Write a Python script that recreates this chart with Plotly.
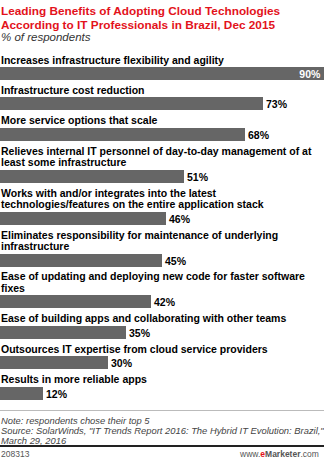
import plotly.graph_objects as go

# ---------------- data ----------------
categories = [
    "Increases infrastructure flexibility and agility",
    "Infrastructure cost reduction",
    "More service options that scale",
    "Relieves internal IT personnel of day-to-day management of at<br>least some infrastructure",
    "Works with and/or integrates into the latest<br>technologies/features on the entire application stack",
    "Eliminates responsibility for maintenance of underlying<br>infrastructure",
    "Ease of updating and deploying new code for faster software<br>fixes",
    "Ease of building apps and collaborating with other teams",
    "Outsources IT expertise from cloud service providers",
    "Results in more reliable apps",
]
values = [90, 73, 68, 51, 46, 45, 42, 35, 30, 12]
value_labels = [f"{v}%" for v in values]

title_lines = [
    "Leading Benefits of Adopting Cloud Technologies",
    "According to IT Professionals in Brazil, Dec 2015",
]
subtitle = "% of respondents"
notes = [
    "Note: respondents chose their top 5",
    "Source: SolarWinds, \"IT Trends Report 2016: The Hybrid IT Evolution: Brazil,\"",
    "March 29, 2016",
]
chart_id = "208313"

# ---------------- layout settings ----------------
W, H = 324, 459
FONT = "Liberation Sans"
LABEL_SIZE = 10.5
FIRST_LABEL_Y = 59.5
LINE_H = 11.5
LABEL_TO_BAR = 14
BAR_TO_LABEL = 16.4
BAR_H = 13
BAR_COLOR = "#666666"
RED = "#e3121b"

# compute vertical positions (pixel units on a reversed y axis)
bar_y = []
label_lines = []
cur = FIRST_LABEL_Y
for cat in categories:
    lines = cat.split("<br>")
    centers = [cur + i * LINE_H for i in range(len(lines))]
    label_lines.append(list(zip(lines, centers)))
    bc = centers[-1] + LABEL_TO_BAR
    bar_y.append(bc)
    cur = bc + BAR_TO_LABEL

xmax = max(values)
positions = ["inside" if v >= 0.85 * xmax else "outside" for v in values]

fig = go.Figure()
fig.add_trace(go.Bar(
    x=values,
    y=bar_y,
    orientation="h",
    width=BAR_H,
    marker=dict(color=BAR_COLOR, line=dict(width=0)),
    text=[f"<b>{t}</b>" for t in value_labels],
    textposition=positions,
    insidetextanchor="end",
    constraintext="none",
    cliponaxis=False,
    insidetextfont=dict(family=FONT, size=LABEL_SIZE, color="white"),
    outsidetextfont=dict(family=FONT, size=LABEL_SIZE, color="black"),
    hoverinfo="skip",
))

annotations = []
for lines in label_lines:
    for txt, yc in lines:
        annotations.append(dict(
            x=0, xref="paper", y=yc, yref="y",
            text=f"<b>{txt}</b>", showarrow=False,
            xanchor="left", yanchor="middle", xshift=-1,
            font=dict(family=FONT, size=LABEL_SIZE, color="black"),
        ))

# title
for i, t in enumerate(title_lines):
    annotations.append(dict(
        x=0, xref="paper", y=10.5 + i * 14, yref="y",
        text=f"<b>{t}</b>", showarrow=False,
        xanchor="left", yanchor="middle", xshift=-1,
        font=dict(family=FONT, size=11.8, color=RED),
    ))
annotations.append(dict(
    x=0, xref="paper", y=36.5, yref="y",
    text=f"<i>{subtitle}</i>", showarrow=False,
    xanchor="left", yanchor="middle", xshift=-1,
    font=dict(family=FONT, size=11.5, color="#333333"),
))

# notes
for i, t in enumerate(notes):
    annotations.append(dict(
        x=0, xref="paper", y=420 + i * 10, yref="y",
        text=f"<i>{t}</i>", showarrow=False,
        xanchor="left", yanchor="middle", xshift=-1,
        font=dict(family=FONT, size=9.4, color="#444444"),
    ))

annotations.append(dict(
    x=0, xref="paper", y=453.5, yref="y",
    text=chart_id, showarrow=False,
    xanchor="left", yanchor="middle", xshift=-1,
    font=dict(family=FONT, size=8.5, color="#555555"),
))
annotations.append(dict(
    x=1, xref="paper", y=453.5, yref="y",
    text=f"www.<span style='color:{RED}'><b>e</b></span><b>Marketer</b>.com",
    showarrow=False,
    xanchor="right", yanchor="middle", xshift=-3,
    font=dict(family=FONT, size=8.5, color="#555555"),
))

shapes = [
    dict(type="line", xref="paper", yref="y", x0=0, x1=1, y0=410.5, y1=410.5,
         line=dict(color="#bbbbbb", width=1)),
    dict(type="line", xref="paper", yref="y", x0=0, x1=1, y0=446, y1=446,
         line=dict(color="#222222", width=2)),
]

fig.update_layout(
    width=W, height=H,
    margin=dict(l=0, r=0, t=0, b=0, pad=0),
    paper_bgcolor="white", plot_bgcolor="white",
    showlegend=False,
    bargap=0,
    xaxis=dict(range=[0, xmax], visible=False, fixedrange=True),
    yaxis=dict(range=[H, 0], visible=False, fixedrange=True),
    annotations=annotations,
    shapes=shapes,
)

fig.write_html("out.html", config={"displayModeBar": False})
